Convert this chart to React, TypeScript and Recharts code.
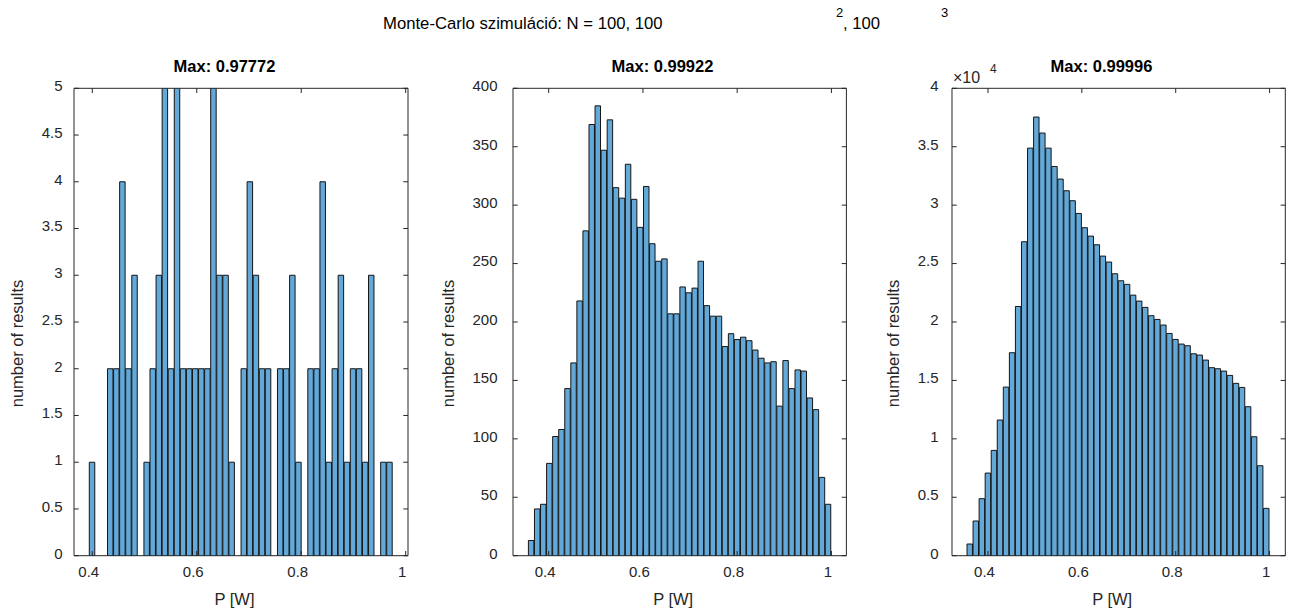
import React from "react";
import { BarChart, Bar, XAxis, YAxis, ReferenceArea, ReferenceLine } from "recharts";

const FONT = "'Liberation Sans', Arial, Helvetica, sans-serif";
const AXIS_COLOR = "#262626";
const BAR_FILL = "#62A8D8";
const BAR_EDGE = "#151515";

// histogram counts, 50 bins per run (N = 100, 100^2, 100^3)
const counts100 = [
  1, 0, 0, 2, 2, 4, 2, 3, 0, 1,
  2, 3, 5, 2, 5, 2, 2, 2, 2, 2,
  5, 3, 3, 1, 0, 2, 4, 3, 2, 2,
  0, 2, 2, 3, 1, 0, 2, 2, 4, 1,
  2, 3, 1, 2, 2, 1, 3, 0, 1, 1,
];
const counts10k = [
  13, 40, 44, 79, 102, 108, 143, 165, 218, 278,
  369, 385, 347, 373, 315, 306, 335, 305, 281, 316,
  267, 252, 254, 207, 207, 230, 225, 229, 252, 214,
  205, 205, 179, 190, 185, 187, 184, 176, 169, 165,
  166, 128, 167, 143, 159, 158, 135, 125, 67, 44,
];
const counts1M = [
  1000, 2970, 4880, 7070, 9010, 11610, 14430, 17370, 21330, 26870,
  34880, 37540, 36170, 34880, 33310, 32230, 31230, 30380, 29290, 28070,
  27350, 26610, 25640, 25130, 24130, 23530, 23220, 22300, 21790, 21250,
  20540, 20220, 19740, 19020, 18510, 18110, 17970, 17280, 17170, 16740,
  16090, 16000, 15800, 15430, 14750, 14400, 12750, 10180, 7700, 4050,
];

// first bin edge and bin width [W] of each histogram
const binStarts = [0.3943, 0.3569, 0.3553];
const binWidths = [0.01162, 0.01286, 0.012894];

// x limits of the three axes
const xLimits: [number, number][] = [
  [0.365, 1.0044],
  [0.3242, 1.0318],
  [0.3233, 1.0335],
];

const xTicks = [0.4, 0.6, 0.8, 1];
const yTicks100 = [0, 0.5, 1, 1.5, 2, 2.5, 3, 3.5, 4, 4.5, 5];
const yTicks10k = [0, 50, 100, 150, 200, 250, 300, 350, 400];
const yTicks1M = [0, 5000, 10000, 15000, 20000, 25000, 30000, 35000, 40000];

const titles = ["Max: 0.97772", "Max: 0.99922", "Max: 0.99996"];

// figure layout
const FIG_W = 1293;
const FIG_H = 611;
const PLOT_TOP = 88.3;
const PLOT_BOTTOM = 555.7;
const LEFT_W = 74;
const RIGHT_PAD = 8;
const TICK_LEN = 4.7; // px, inward like matlab

const toBins = (counts: number[], start: number, w: number) =>
  counts.map((c, i) => ({ p: start + (i + 0.5) * w, count: c }));

interface HistProps {
  data: { p: number; count: number }[];
  plotLeft: number;
  plotWidth: number;
  xLim: [number, number];
  binW: number;
  yTicks: number[];
  yFmt: (v: number) => string;
  tickGap: number;
  labelX: number;
}

const Histogram: React.FC<HistProps> = ({ data, plotLeft, plotWidth, xLim, binW, yTicks, yFmt, tickGap, labelX }) => {
  const chartLeft = plotLeft - LEFT_W;
  const width = LEFT_W + plotWidth + RIGHT_PAD;
  const plotHeight = PLOT_BOTTOM - PLOT_TOP;
  const yMax = yTicks[yTicks.length - 1];
  const xSpan = xLim[1] - xLim[0];
  const barPx = (plotWidth * binW) / xSpan;
  const dx = (TICK_LEN / plotWidth) * xSpan;
  const dy = (TICK_LEN / plotHeight) * yMax;
  const lx = labelX - chartLeft;
  const ly = 343.5;

  const xTick = (props: any) => (
    <text x={props.x - 3.5} y={577} textAnchor="middle" fontSize={15} fontFamily={FONT} fill={AXIS_COLOR}>
      {props.payload.value}
    </text>
  );
  const yTick = (props: any) => (
    <text x={LEFT_W - tickGap} y={props.y - 2.5} dy="0.355em" textAnchor="end" fontSize={15} fontFamily={FONT} fill={AXIS_COLOR}>
      {yFmt(props.payload.value)}
    </text>
  );

  return (
    <div style={{ position: "absolute", left: chartLeft, top: 0 }}>
      <BarChart
        width={width}
        height={FIG_H}
        data={data}
        margin={{ top: PLOT_TOP, right: RIGHT_PAD, bottom: 0, left: 0 }}
        barCategoryGap={0}
        barGap={0}
      >
        <XAxis
          dataKey="p"
          type="number"
          domain={xLim}
          ticks={xTicks}
          interval={0}
          allowDataOverflow
          height={FIG_H - PLOT_BOTTOM}
          axisLine={false}
          tickLine={false}
          tick={xTick}
          label={{
            content: () => (
              <text x={LEFT_W + plotWidth / 2 - 6.5} y={605} textAnchor="middle" fontSize={16.5} fontFamily={FONT} fill={AXIS_COLOR}>
                P [W]
              </text>
            ),
          }}
        />
        <YAxis
          type="number"
          domain={[0, yMax]}
          ticks={yTicks}
          interval={0}
          allowDataOverflow
          width={LEFT_W}
          axisLine={false}
          tickLine={false}
          tick={yTick}
          label={{
            content: () => (
              <text
                x={lx}
                y={ly}
                transform={`rotate(-90, ${lx}, ${ly})`}
                textAnchor="middle"
                dominantBaseline="central"
                fontSize={16.5}
                fontFamily={FONT}
                fill={AXIS_COLOR}
              >
                number of results
              </text>
            ),
          }}
        />
        <Bar
          dataKey="count"
          fill={BAR_FILL}
          stroke={BAR_EDGE}
          strokeWidth={1}
          barSize={barPx}
          isAnimationActive={false}
        />
        {/* inward ticks on all four sides */}
        {xTicks.map((t) => (
          <ReferenceLine key={`xb${t}`} segment={[{ x: t, y: 0 }, { x: t, y: dy }]} stroke={AXIS_COLOR} ifOverflow="visible" />
        ))}
        {xTicks.map((t) => (
          <ReferenceLine key={`xt${t}`} segment={[{ x: t, y: yMax }, { x: t, y: yMax - dy }]} stroke={AXIS_COLOR} ifOverflow="visible" />
        ))}
        {yTicks.map((t) => (
          <ReferenceLine key={`yl${t}`} segment={[{ x: xLim[0], y: t }, { x: xLim[0] + dx, y: t }]} stroke={AXIS_COLOR} ifOverflow="visible" />
        ))}
        {yTicks.map((t) => (
          <ReferenceLine key={`yr${t}`} segment={[{ x: xLim[1], y: t }, { x: xLim[1] - dx, y: t }]} stroke={AXIS_COLOR} ifOverflow="visible" />
        ))}
        {/* axes box */}
        <ReferenceArea
          x1={xLim[0]}
          x2={xLim[1]}
          y1={0}
          y2={yMax}
          fill="none"
          fillOpacity={0}
          stroke={AXIS_COLOR}
          strokeWidth={1}
          ifOverflow="visible"
        />
      </BarChart>
    </div>
  );
};

export default function App() {
  const txt = { fontFamily: FONT, fill: "#000" };
  return (
    <div style={{ position: "absolute", left: 0, top: 0, width: FIG_W, height: FIG_H, background: "#fff" }}>
      <Histogram
        data={toBins(counts100, binStarts[0], binWidths[0])}
        plotLeft={74}
        plotWidth={334}
        xLim={xLimits[0]}
        binW={binWidths[0]}
        yTicks={yTicks100}
        yFmt={(v) => String(v)}
        tickGap={11.5}
        labelX={17}
      />
      <Histogram
        data={toBins(counts10k, binStarts[1], binWidths[1])}
        plotLeft={513.3}
        plotWidth={333.4}
        xLim={xLimits[1]}
        binW={binWidths[1]}
        yTicks={yTicks10k}
        yFmt={(v) => String(v)}
        tickGap={15.5}
        labelX={448.5}
      />
      <Histogram
        data={toBins(counts1M, binStarts[2], binWidths[2])}
        plotLeft={951.7}
        plotWidth={333.3}
        xLim={xLimits[2]}
        binW={binWidths[2]}
        yTicks={yTicks1M}
        yFmt={(v) => String(v / 10000)}
        tickGap={13.4}
        labelX={892.5}
      />
      <svg width={FIG_W} height={FIG_H} style={{ position: "absolute", left: 0, top: 0, pointerEvents: "none" }}>
        <text x={383} y={29} fontSize={16.7} {...txt}>Monte-Carlo szimuláció: N = 100, 100</text>
        <text x={836} y={17} fontSize={13} {...txt}>2</text>
        <text x={843} y={29} fontSize={16.7} {...txt}>, 100</text>
        <text x={941} y={17} fontSize={13} {...txt}>3</text>
        <text x={224.5} y={72} fontSize={16.5} fontWeight="bold" textAnchor="middle" {...txt}>{titles[0]}</text>
        <text x={662.5} y={72} fontSize={16.5} fontWeight="bold" textAnchor="middle" {...txt}>{titles[1]}</text>
        <text x={1101.5} y={72} fontSize={16.5} fontWeight="bold" textAnchor="middle" {...txt}>{titles[2]}</text>
        <text x={953} y={83} fontSize={16} fontFamily={FONT} fill={AXIS_COLOR}>×10</text>
        <text x={990} y={73} fontSize={12} fontFamily={FONT} fill={AXIS_COLOR}>4</text>
      </svg>
    </div>
  );
}
